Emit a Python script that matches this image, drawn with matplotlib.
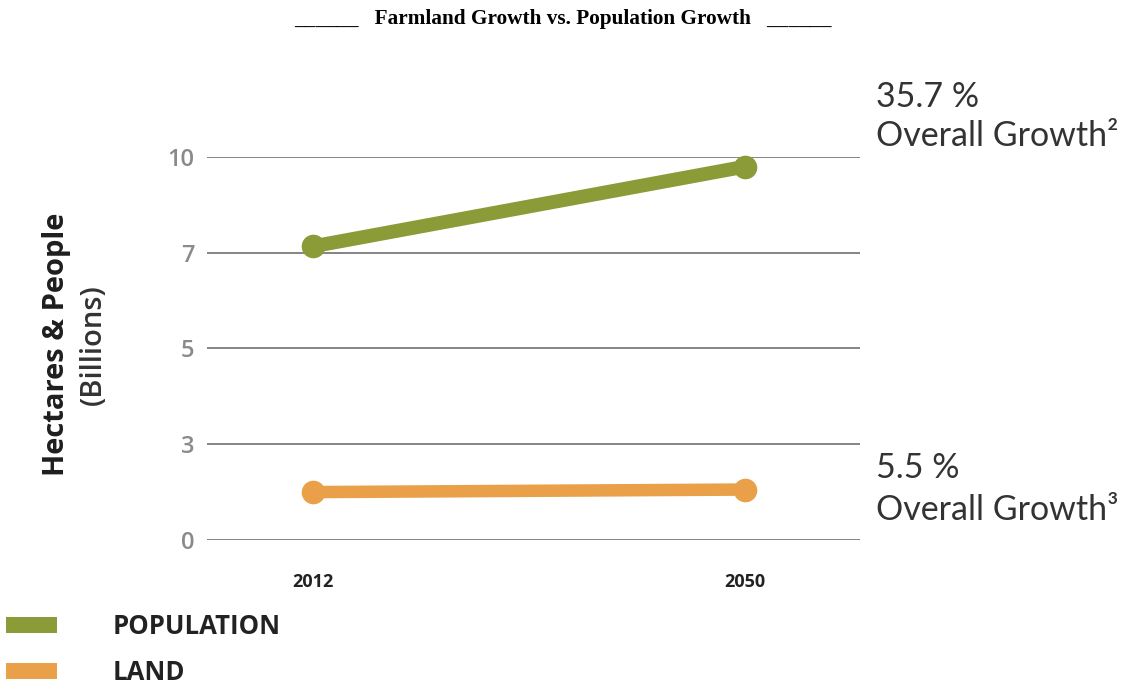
import numpy as np
import matplotlib.pyplot as plt
from matplotlib.lines import Line2D

years = [2012, 2050]
population = [7.2, 9.7]
land = [1.5, 1.58]
y_ticks = [0, 3, 5, 7, 10]
series_names = ['POPULATION', 'LAND']
pop_note = ['35.7 %', 'Overall Growth²']
land_note = ['5.5 %', 'Overall Growth³']

green = '#8b9b37'
orange = '#e9a048'

# tick values are evenly spaced on the chart, so map them piecewise
tick_vals = [-3] + y_ticks + [13]
tick_pos = list(range(-1, len(y_ticks) + 1))


def forward(v):
    return np.interp(v, tick_vals, tick_pos)


def inverse(p):
    return np.interp(p, tick_pos, tick_vals)


fig = plt.figure(figsize=(11.26, 6.89), dpi=100)
ax = fig.add_axes([0.1838, 0.2163, 0.58, 0.5558])
ax.set_yscale('function', functions=(forward, inverse))

ax.plot(years, population, color=green, lw=10, marker='o', ms=16,
        solid_capstyle='round', clip_on=False, zorder=3)
ax.plot(years, land, color=orange, lw=9, marker='o', ms=16,
        solid_capstyle='round', clip_on=False, zorder=3)

ax.set_xlim(2002.7, 2060.1)
ax.set_ylim(0, 10)
ax.set_yticks(y_ticks)
ax.set_yticklabels([str(t) for t in y_ticks], fontsize=17, color='#8a8a8a',
                   family='Open Sans', fontweight='semibold')
ax.set_xticks(years)
ax.set_xticklabels([str(y) for y in years], fontsize=13, fontweight='bold',
                   color='#222222', family='Open Sans')
ax.tick_params(axis='both', length=0)
ax.tick_params(axis='y', pad=9)
ax.tick_params(axis='x', pad=24)
ax.yaxis.set_minor_locator(plt.NullLocator())
ax.grid(axis='y', color='#6f6f6f', lw=1.2)
ax.set_axisbelow(True)
for s in ax.spines.values():
    s.set_visible(False)

fig.text(0.050, 0.500, 'Hectares & People', rotation=90, ha='center', va='center',
         fontsize=21, fontweight='bold', color='#1e1e1e', family='Open Sans')
fig.text(0.083, 0.500, '(Billions)', rotation=90, ha='center', va='center',
         fontsize=21, fontweight='semibold', color='#333333', family='Open Sans')

fig.text(0.5, 0.972, '______   Farmland Growth vs. Population Growth   ______',
         ha='center', va='center', fontsize=15.3, fontweight='bold',
         family='Liberation Serif', color='black')

note_x = 876 / 1126
for note, ys in [(pop_note, (97, 136)), (land_note, (468, 510))]:
    for txt, yp in zip(note, ys):
        fig.text(note_x, 1 - yp / 689, txt, fontsize=24.5, color='#333333',
                 family='Lato', va='center', ha='left')

handles = [Line2D([], [], color=green, lw=11.5), Line2D([], [], color=orange, lw=11.5)]
leg = fig.legend(handles, series_names, loc='lower left', bbox_to_anchor=(-0.008, -0.029),
                 frameon=False, handlelength=1.35, handletextpad=2.5, labelspacing=0.72,
                 prop={'family': 'Open Sans', 'weight': 'bold', 'size': 18.5})
for t in leg.get_texts():
    t.set_color('#222222')

fig.savefig('out.png', dpi=100)
